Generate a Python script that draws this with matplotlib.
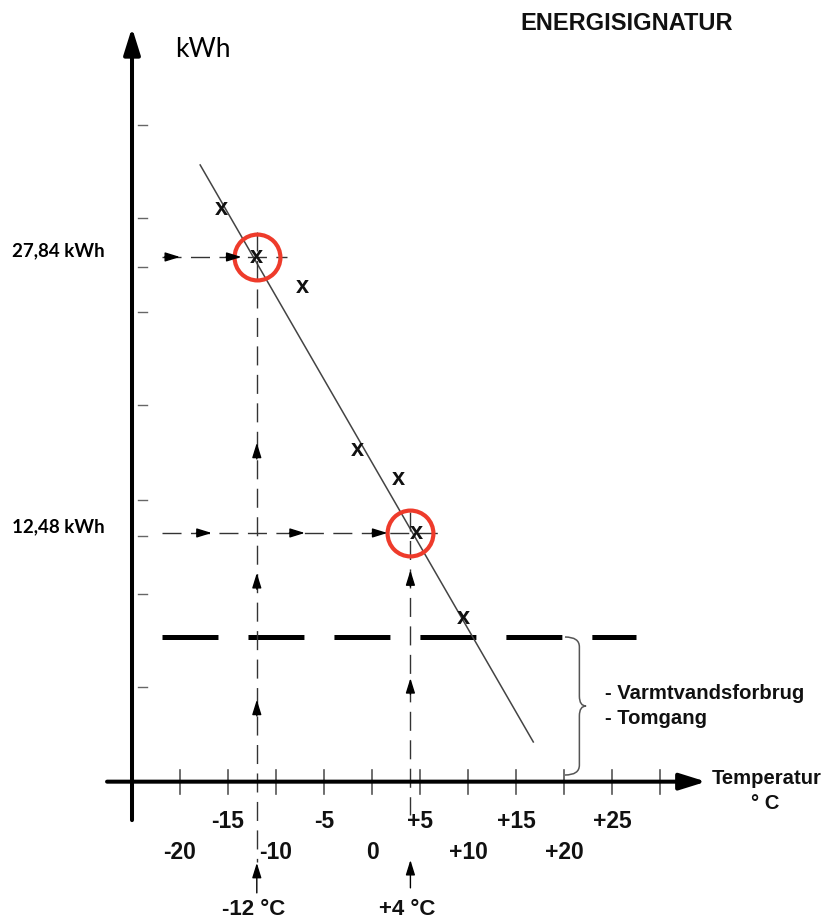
import numpy as np
import matplotlib
matplotlib.use("Agg")
import matplotlib.pyplot as plt
from matplotlib.path import Path
from matplotlib.patches import PathPatch

plt.rcParams['lines.scale_dashes'] = False

# measured points (temperature in C, consumption in kWh)
point_temp = [-15.7, -12, -7.3, -1.5, 2.7, 4.6, 9.5]
point_kwh = [30.55, 27.84, 26.2, 17.1, 15.5, 12.48, 7.8]

# fitted signature line, end points
line_temp = [-17.9, 16.8]
line_kwh = [32.96, 0.85]

# the two highlighted readings
read_temp = [-12, 4]
read_kwh = [27.84, 12.48]
read_kwh_labels = ["27,84 kWh", "12,48 kWh"]
read_temp_labels = ["-12 °C", "+4 °C"]

# base load (hot water + idle)
base_kwh = 6.69

# axis ticks
x_ticks = [-20, -15, -10, -5, 0, 5, 10, 15, 20, 25, 30]
x_tick_labels_top = {-15: "-15", -5: "-5", 5: "+5", 15: "+15", 25: "+25"}
x_tick_labels_bottom = {-20: "-20", -10: "-10", 0: "0", 10: "+10", 20: "+20"}
y_ticks = [3.9, 9.1, 12.3, 14.3, 19.6, 24.8, 27.3, 30.0, 35.2]

# little guide arrows on the dashed reading lines
arrows_h1 = [-20.0, -13.6]          # along 27,84 line
arrows_h2 = [-16.7, -7.0, 1.6]      # along 12,48 line
arrows_v1 = [17.5, 10.25, 3.2]      # along -12 line
arrows_v2 = [10.4, 4.4]             # along +4 line

# axis geometry (data units)
y_axis_t = -25
x_axis_k = -1.36

fig = plt.figure(figsize=(8.24, 9.22), dpi=100)
ax = fig.add_axes([0, 0, 1, 1])
ax.set_xlim(-38.75, 47.08)
ax.set_ylim(-9.17, 42.14)
ax.axis('off')

bold = dict(family='Liberation Sans', weight='bold', color='#111111')

# axes with arrows
ax.annotate('', xy=(y_axis_t, 40.6), xytext=(y_axis_t, -3.5),
            arrowprops=dict(arrowstyle='-|>,head_length=1.6,head_width=0.5',
                            lw=2.9, color='black', shrinkA=0, shrinkB=0))
ax.annotate('', xy=(34.8, x_axis_k), xytext=(-27.6, x_axis_k),
            arrowprops=dict(arrowstyle='-|>,head_length=1.6,head_width=0.5',
                            lw=2.9, color='black', shrinkA=0, shrinkB=0))

for t in x_ticks:
    ax.plot([t, t], [-0.71, -2.05], color='#555555', lw=1.2)
for k in y_ticks:
    ax.plot([-24.4, -23.4], [k, k], color='#666666', lw=1.0)

# tick labels
for t, s in x_tick_labels_top.items():
    ax.text(t, -3.55, s, ha='center', va='center', fontsize=16.5, **bold)
for t, s in x_tick_labels_bottom.items():
    ax.text(t, -5.33, s, ha='center', va='center', fontsize=16.5, **bold)

# base load thick dashed line
ax.plot([-21.875, 27.5], [base_kwh, base_kwh], color='black', lw=3.6,
        linestyle=(0, (40.3, 21.6)), solid_capstyle='butt', dash_capstyle='butt')

# signature line
ax.plot(line_temp, line_kwh, color='#444444', lw=1.1)

# reading lines
thin = dict(color='#333333', lw=1.0, linestyle=(0, (13.7, 6.8)), dash_capstyle='butt')
ax.plot([-21.9, -8.85], [read_kwh[0], read_kwh[0]], **thin)
ax.plot([-21.9, 6.9], [read_kwh[1], read_kwh[1]], **thin)
ax.plot([read_temp[0], read_temp[0]], [29.23, -5.83], **thin)
ax.plot([read_temp[1], read_temp[1]], [13.65, -3.21], **thin)

head = dict(arrowstyle='-|>,head_length=0.9,head_width=0.28', lw=1.0,
            color='black', shrinkA=0, shrinkB=0)
for t in arrows_h1:
    ax.annotate('', xy=(t, read_kwh[0]), xytext=(t - 1.6, read_kwh[0]), arrowprops=head)
for t in arrows_h2:
    ax.annotate('', xy=(t, read_kwh[1]), xytext=(t - 1.6, read_kwh[1]), arrowprops=head)
for k in arrows_v1:
    ax.annotate('', xy=(read_temp[0], k), xytext=(read_temp[0], k - 0.9), arrowprops=head)
for k in arrows_v2:
    ax.annotate('', xy=(read_temp[1], k), xytext=(read_temp[1], k - 0.9), arrowprops=head)

# arrows under the axis pointing at the readings
ax.annotate('', xy=(read_temp[0], -5.88), xytext=(read_temp[0], -7.55), arrowprops=head)
ax.annotate('', xy=(read_temp[1], -5.72), xytext=(read_temp[1], -7.27), arrowprops=head)
for t, s in zip(read_temp, read_temp_labels):
    ax.text(t - 0.3, -8.5, s, ha='center', va='center', fontsize=16, **bold)

# points as "x" letters
for t, k in zip(point_temp, point_kwh):
    ax.text(t, k, 'x', ha='center', va='center', fontsize=17, **bold)

# red circles on the readings
ax.plot(read_temp, read_kwh, 'o', ms=33, mfc='none', mec='#EE3B2B', mew=3.0)

# reading labels
for k, s in zip(read_kwh, read_kwh_labels):
    ax.text(-37.5, k + 0.35, s, ha='left', va='center', fontsize=13.5,
            family='Lato', weight='bold', color='black')

# brace for base load
x0, x1, x2 = 20.1, 21.6, 22.3
yt, yb = base_kwh, -0.99
ym = (yt + yb) / 2
r = 0.55
verts = [(x0, yt), (x1, yt), (x1, yt - r), (x1, ym + r), (x1, ym), (x2, ym),
         (x1, ym), (x1, ym - r), (x1, yb + r), (x1, yb), (x0, yb)]
codes = [Path.MOVETO, Path.CURVE3, Path.CURVE3, Path.LINETO, Path.CURVE3, Path.CURVE3,
         Path.CURVE3, Path.CURVE3, Path.LINETO, Path.CURVE3, Path.CURVE3]
ax.add_patch(PathPatch(Path(verts, codes), fill=False, edgecolor='#555555', lw=1.1))

ax.text(24.3, 3.52, "- Varmtvandsforbrug", ha='left', va='center', fontsize=14.6, **bold)
ax.text(24.3, 2.13, "- Tomgang", ha='left', va='center', fontsize=14.6, **bold)

# titles
ax.text(35.4, -1.2, "Temperatur", ha='left', va='center', fontsize=14.6, **bold)
ax.text(41.0, -2.55, "° C", ha='center', va='center', fontsize=14.6, **bold)
ax.text(26.53, 40.86, "ENERGISIGNATUR", ha='center', va='center', fontsize=17, **bold)
ax.text(-20.5, 39.36, "kWh", ha='left', va='center', fontsize=19, family='Lato', color='black')

fig.savefig("out.png", dpi=100)
